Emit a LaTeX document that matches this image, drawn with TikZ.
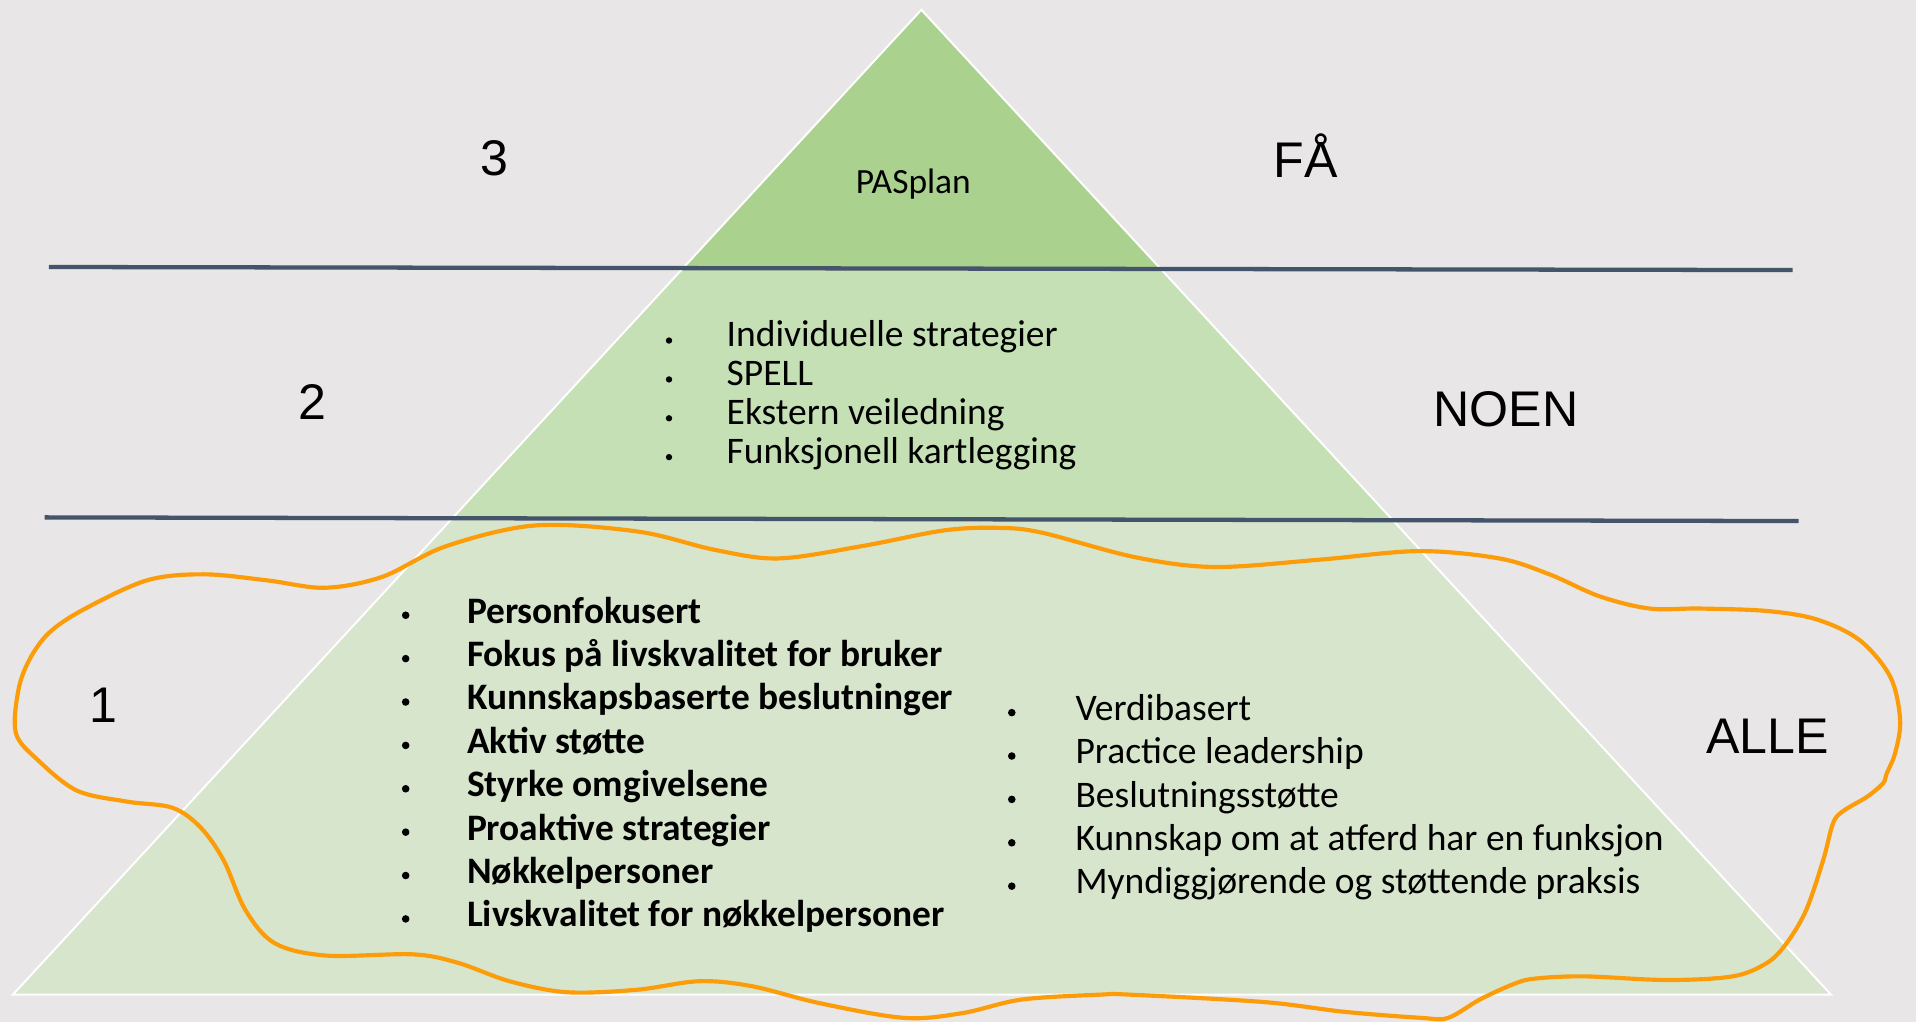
\documentclass[tikz,border=0pt]{standalone}
\usepackage{fontspec}
\setmainfont{Carlito}
\newfontfamily\arialf{Liberation Sans}
\definecolor{bgc}{RGB}{232,230,230}
\definecolor{topg}{RGB}{170,209,142}
\definecolor{midg}{RGB}{197,224,180}
\definecolor{botg}{RGB}{216,229,205}
\definecolor{sepc}{RGB}{68,84,106}
\definecolor{orc}{RGB}{252,156,8}
\tikzset{
  biglbl/.style={font=\arialf\fontsize{41}{41}\selectfont, inner sep=0pt, anchor=base},
  bigw/.style={font=\arialf\fontsize{41}{41}\selectfont, inner sep=0pt, anchor=base west},
  listtxt/.style={font=\fontsize{30.7}{36}\selectfont, inner sep=0pt, anchor=base west},
  midtxt/.style={font=\fontsize{30.7}{36}\selectfont, inner sep=0pt, anchor=base west},
  boldtxt/.style={font=\bfseries\fontsize{30.6}{36}\selectfont, inner sep=0pt, anchor=base west},
  bul/.style={fill=black, draw=none},
  sepline/.style={draw=sepc, line width=3.5pt},
  blob/.style={draw=orc, line width=3.4pt},
}
\begin{document}
\begin{tikzpicture}[x=1pt,y=-1pt]
\useasboundingbox (0,0) rectangle (1568,836);
\fill[bgc] (0,0) rectangle (1568,836);
% pyramid bands
\begin{scope}
  \clip (754,8) -- (1498.5,814) -- (10.5,814) -- cycle;
  \fill[topg] (0,0) -- (1568,0) -- (1568,221.2) -- (0,218.4) -- cycle;
  \fill[midg] (0,218.4) -- (1568,221.2) -- (1568,426.6) -- (0,423.3) -- cycle;
  \fill[botg] (0,423.3) -- (1568,426.6) -- (1568,836) -- (0,836) -- cycle;
\end{scope}
\draw[white, line width=1.6pt, line join=miter] (754,8) -- (1498.5,814) -- (10.5,814) -- cycle;
% separator lines
\draw[sepline] (40,218.5) -- (1467,221);
\draw[sepline] (36.5,423.4) -- (1472,426.4);
% big labels
\node[biglbl] (n3) at (405,144) {3};
\node[bigw] (fa) at (1042,145) {FÅ};
\node[biglbl] (n2) at (256,343) {2};
\node[bigw] (noen) at (1173,349) {NOEN};
\node[biglbl] (n1) at (84.5,591.5) {1};
\node[bigw] (alle) at (1396,616.5) {ALLE};
% top
\node[font=\fontsize{29}{34}\selectfont, inner sep=0pt, anchor=base] (pas) at (747.5,158) {PASplan};
% middle list
\foreach \y/\t [count=\i] in {283.5/Individuelle strategier, 315.3/SPELL, 347.1/Ekstern veiledning, 378.9/Funksjonell kartlegging}{
  \fill[bul] (547.5,\y-4.8) circle (2.6);
  \node[midtxt] (m\i) at (594.5,\y) {\t};
}
% bottom left list (bold)
\foreach \y/\t [count=\i] in {510/Personfokusert, 545.5/Fokus på livskvalitet for bruker, 581/Kunnskapsbaserte beslutninger, 616.5/Aktiv støtte, 652/Styrke omgivelsene, 687.5/Proaktive strategier, 723/Nøkkelpersoner, 758.5/Livskvalitet for nøkkelpersoner}{
  \fill[bul] (332,\y-6.5) circle (3.1);
  \node[boldtxt] (b\i) at (382,\y) {\t};
}
% bottom right list
\foreach \y/\t [count=\i] in {589.5/Verdibasert, 625/Practice leadership, 660.5/Beslutningsstøtte, 696/Kunnskap om at atferd har en funksjon, 731.5/Myndiggjørende og støttende praksis}{
  \fill[bul] (828,\y-6.3) circle (3.1);
  \node[listtxt] (r\i) at (880,\y) {\t};
}
% orange freehand outline
\draw[blob] plot[smooth cycle, tension=0.55] coordinates {
(15,565) (24,540) (40,518) (68,499) (120,475) (167,470) (219,475) (266,481)
(313,472) (365,447) (438,430) (522,435) (585,450) (637,457) (705,447) (773,434)
(818,432) (853,436) (929,456) (994,464) (1080,458) (1161,451) (1227,457) (1268,470)
(1309,488) (1350,498) (1391,498) (1446,500) (1487,507) (1522,524) (1547,554) (1555,589)
(1551,616) (1544,633) (1541,641) (1528,652) (1508,664) (1500,674) (1492,704) (1478,745)
(1462,772) (1446,788) (1418,799) (1364,802) (1296,799) (1255,801) (1237,806) (1211,818)
(1185,833) (1163,833) (1100,828) (1034,820) (925,814) (900,814) (836,818) (788,829)
(740,833) (671,821) (615,807) (572,803) (521,810) (464,812) (417,803) (375,788)
(338,781) (267,782) (225,772) (201,745) (183,704) (164,677) (141,661) (104,656)
(63,647) (31,622) (13,600)
};
\end{tikzpicture}
\end{document}
